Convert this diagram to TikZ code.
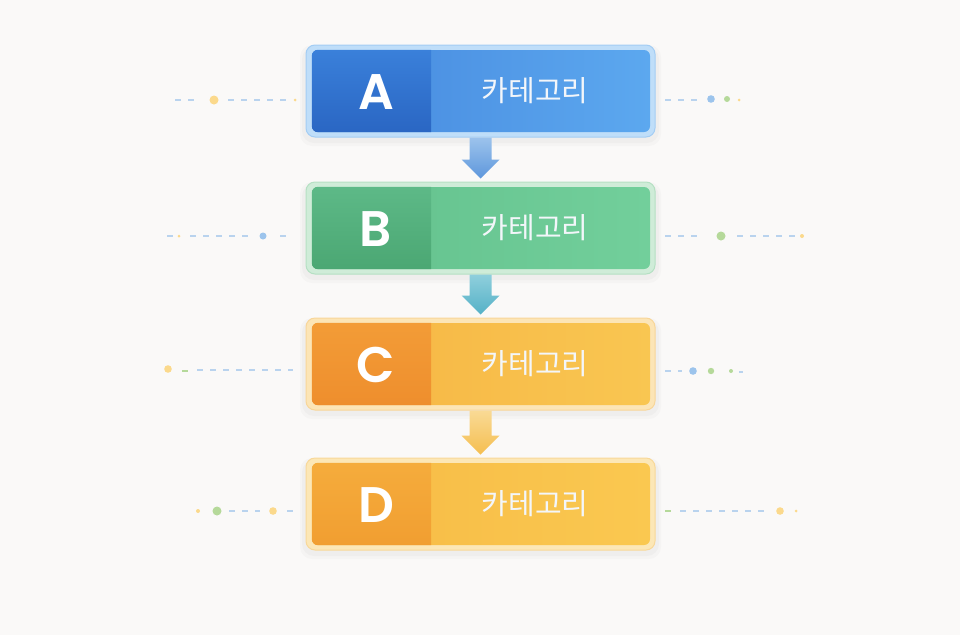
\documentclass[tikz,border=0pt]{standalone}
\usepackage{fontspec}
\newfontfamily\kr{Noto Sans CJK KR}
\newfontfamily\lat{Poppins SemiBold}
\usetikzlibrary{calc}
\definecolor{bg}{HTML}{FAF9F8}
\definecolor{dashc}{HTML}{B9D3EE}
\definecolor{dotY}{HTML}{FBD98C}
\definecolor{dotB}{HTML}{9CC4EC}
\definecolor{dotG}{HTML}{B5D99A}
% box A
\definecolor{fA}{HTML}{BFDEF9}\definecolor{fAd}{HTML}{A3CDF4}
\definecolor{lAt}{HTML}{3A80DA}\definecolor{lAb}{HTML}{2A66C3}
\definecolor{rAl}{HTML}{4587DD}\definecolor{rAr}{HTML}{5CA8EF}
% box B
\definecolor{fB}{HTML}{CFECD8}\definecolor{fBd}{HTML}{B5E0C3}
\definecolor{lBt}{HTML}{5DB987}\definecolor{lBb}{HTML}{4BA773}
\definecolor{rBl}{HTML}{62C08C}\definecolor{rBr}{HTML}{72CF9B}
% box C
\definecolor{fC}{HTML}{FCE5B6}\definecolor{fCd}{HTML}{F8D699}
\definecolor{lCt}{HTML}{F39C37}\definecolor{lCb}{HTML}{EE8E2D}
\definecolor{rCl}{HTML}{F6B443}\definecolor{rCr}{HTML}{F9C651}
% box D
\definecolor{fD}{HTML}{FCE7B6}\definecolor{fDd}{HTML}{F8D899}
\definecolor{lDt}{HTML}{F5AC3C}\definecolor{lDb}{HTML}{F19E31}
\definecolor{rDl}{HTML}{F7BA45}\definecolor{rDr}{HTML}{FAC850}
% arrows
\definecolor{aABt}{HTML}{9CC3EC}\definecolor{aABb}{HTML}{5E97DC}
\definecolor{aBCt}{HTML}{8FCFDC}\definecolor{aBCb}{HTML}{55B1C7}
\definecolor{aCDt}{HTML}{F9DA95}\definecolor{aCDb}{HTML}{F5BE50}
\definecolor{txt}{HTML}{F3F6FA}

\tikzset{
  frame/.style={rounded corners=9pt, minimum width=349pt, minimum height=92pt, line width=1pt, inner sep=0pt},
  innerbox/.style={rounded corners=6pt, minimum width=338pt, minimum height=82pt, inner sep=0pt},
  letter/.style={text=white, font=\lat\fontsize{50}{50}\selectfont, inner sep=0pt},
  cat/.style={text=txt, font=\kr\fontsize{29}{29}\selectfont, inner sep=0pt},
  dashline/.style={dashc, line width=1.2pt, dash pattern=on 6pt off 7pt},
}

\newcommand\catbox[9]{%
  \fill[black, opacity=0.025, rounded corners=12pt] (302,#2-44) rectangle (659,#2+52);
  \fill[black, opacity=0.02, rounded corners=12pt] (300,#2-46) rectangle (661,#2+55);
  \node[frame, fill=#4, draw=#9] (#1) at (480.5,#2) {};
  \node[innerbox, left color=#7, right color=#8] (#1in) at (481,#2) {};
  \begin{scope}
    \clip[rounded corners=6pt] (#1in.north west) rectangle (#1in.south east);
    \shade[top color=#5, bottom color=#6] (#1in.north west) rectangle (431,#2+42);
  \end{scope}
  \node[letter] (#1l) at (376,#2+1) {#3};
  \node[cat] (#1c) at (535,#2) {카테고리};
}

\newcommand\blockarrow[4]{%
  \shade[top color=#3, bottom color=#4]
    ($(#1.south)+(-11,0)$) -- ($(#2.north)+(-11,-22)$) -- ($(#2.north)+(-19,-22)$)
    -- ($(#2.north)+(0,-3)$)
    -- ($(#2.north)+(19,-22)$) -- ($(#2.north)+(11,-22)$) -- ($(#1.south)+(11,0)$) -- cycle;
}

\newcommand\dsh[3]{\draw[dashline] (#1,#3) -- (#2,#3);}
\newcommand\dt[4]{\fill[#4] (#1,#2) circle (#3pt);}

\begin{document}
\begin{tikzpicture}[x=1pt, y=-1pt]
\useasboundingbox (0,0) rectangle (960,635);
\fill[bg] (0,0) rectangle (960,635);

% side decorations, row A
\dsh{175}{197}{100}
\dt{214}{100}{4.5}{dotY}
\dsh{228}{288}{100}
\dt{295}{100}{1.5}{dotY}
\dsh{665}{698}{100}
\dt{711}{99}{3.8}{dotB}
\dt{727}{99}{3}{dotG}
\dt{739}{100}{1.5}{dotY}
% row B
\dsh{167}{175}{236}
\dt{179}{236}{1.5}{dotY}
\dsh{190}{250}{236}
\dt{263}{236}{3.5}{dotB}
\dsh{280}{292}{236}
\dsh{665}{702}{236}
\dt{721}{236}{4.5}{dotG}
\dsh{737}{795}{236}
\dt{802}{236}{2}{dotY}
% row C
\dt{168}{369}{3.8}{dotY}
\draw[dotG, line width=1.2pt] (182,371) -- (188,371);
\dsh{197}{293}{370}
\dsh{665}{682}{371}
\dt{693}{371}{3.8}{dotB}
\dt{711}{371}{3.2}{dotG}
\dt{731}{371}{2}{dotG}
\dsh{739}{743}{372}
% row D
\dt{198}{511}{2}{dotY}
\dt{217}{511}{4.5}{dotG}
\dsh{229}{260}{511}
\dt{273}{511}{3.8}{dotY}
\dsh{287}{298}{511}
\draw[dotG, line width=1.2pt] (665,511) -- (671,511);
\dsh{680}{767}{511}
\dt{780}{511}{3.8}{dotY}
\dt{796}{511}{1.5}{dotY}

% boxes
\catbox{A}{91}{A}{fA}{lAt}{lAb}{rAl}{rAr}{fAd}
\catbox{B}{228}{B}{fB}{lBt}{lBb}{rBl}{rBr}{fBd}
\catbox{C}{364}{C}{fC}{lCt}{lCb}{rCl}{rCr}{fCd}
\catbox{D}{504}{D}{fD}{lDt}{lDb}{rDl}{rDr}{fDd}

% arrows
\blockarrow{A}{B}{aABt}{aABb}
\blockarrow{B}{C}{aBCt}{aBCb}
\blockarrow{C}{D}{aCDt}{aCDb}
\end{tikzpicture}
\end{document}
